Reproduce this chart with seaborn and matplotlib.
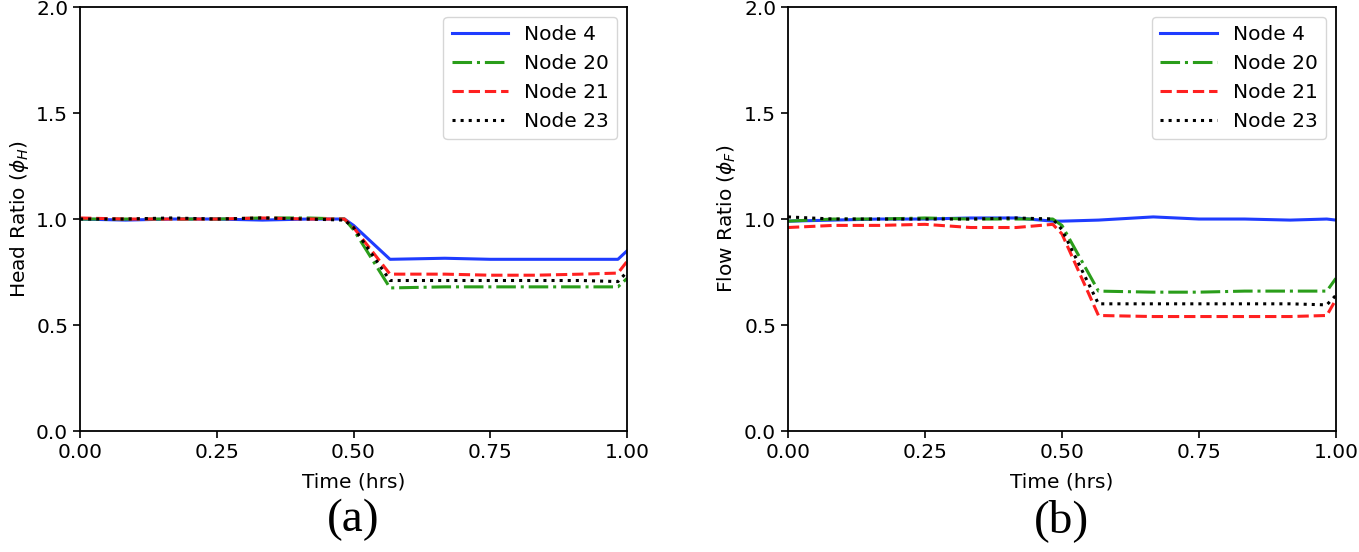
import numpy as np
import pandas as pd
import matplotlib
matplotlib.use("Agg")
import matplotlib.pyplot as plt
import seaborn as sns

# time stamps in minutes, converted to hours
minutes = [0, 5, 10, 15, 20, 25, 29, 30, 34, 40, 45, 50, 55, 59, 60]
time_hrs = [m / 60 for m in minutes]

# (a) head ratio
head_node4 = [1.00, 0.995, 1.00, 1.00, 0.995, 1.00, 1.00, 0.97, 0.81, 0.815, 0.81, 0.81, 0.81, 0.81, 0.85]
head_node20 = [1.00, 1.00, 1.00, 1.00, 1.005, 1.005, 1.00, 0.95, 0.675, 0.68, 0.68, 0.68, 0.68, 0.68, 0.72]
head_node21 = [1.005, 1.00, 1.00, 1.00, 1.005, 1.00, 1.00, 0.96, 0.74, 0.74, 0.735, 0.735, 0.74, 0.745, 0.80]
head_node23 = [1.00, 1.00, 1.005, 1.00, 1.005, 1.00, 0.995, 0.96, 0.71, 0.71, 0.71, 0.71, 0.71, 0.705, 0.75]

# (b) flow ratio
flow_node4 = [0.99, 0.995, 1.00, 1.00, 1.005, 1.005, 0.99, 0.99, 0.995, 1.01, 1.00, 1.00, 0.995, 1.00, 0.995]
flow_node20 = [0.99, 1.00, 1.00, 1.005, 1.00, 1.00, 1.00, 0.97, 0.66, 0.655, 0.655, 0.66, 0.66, 0.66, 0.72]
flow_node21 = [0.96, 0.97, 0.97, 0.975, 0.96, 0.96, 0.975, 0.93, 0.545, 0.54, 0.54, 0.54, 0.54, 0.545, 0.62]
flow_node23 = [1.01, 1.00, 1.00, 1.00, 1.00, 1.005, 1.00, 0.95, 0.60, 0.60, 0.60, 0.60, 0.60, 0.595, 0.64]

labels = ["Node 4", "Node 20", "Node 21", "Node 23"]
colors = ["#1f3cff", "#2a9d1a", "#ff2020", "black"]
styles = ["-", "-.", "--", ":"]

head = pd.DataFrame({"t": time_hrs, "Node 4": head_node4, "Node 20": head_node20,
                     "Node 21": head_node21, "Node 23": head_node23})
flow = pd.DataFrame({"t": time_hrs, "Node 4": flow_node4, "Node 20": flow_node20,
                     "Node 21": flow_node21, "Node 23": flow_node23})

fig = plt.figure(figsize=(13.59, 5.52), dpi=100)
ax1 = fig.add_axes([0.0589, 0.2192, 0.4025, 0.768])
ax2 = fig.add_axes([0.5798, 0.2192, 0.4032, 0.768])

for ax, df, ylab, tag in [(ax1, head, r"Head Ratio ($\phi_H$)", "(a)"),
                          (ax2, flow, r"Flow Ratio ($\phi_F$)", "(b)")]:
    for lab, c, ls in zip(labels, colors, styles):
        sns.lineplot(data=df, x="t", y=lab, ax=ax, color=c, linestyle=ls,
                     linewidth=2.2, label=lab)
    ax.set_xlim(0, 1)
    ax.set_ylim(0, 2)
    ax.set_xticks([0, 0.25, 0.5, 0.75, 1.0])
    ax.set_xticklabels(["0.00", "0.25", "0.50", "0.75", "1.00"])
    ax.set_yticks([0, 0.5, 1.0, 1.5, 2.0])
    ax.tick_params(labelsize=14.5, length=5, width=1.2)
    for s in ax.spines.values():
        s.set_linewidth(1.3)
    ax.set_xlabel("Time (hrs)", fontsize=14.5, labelpad=8)
    ax.set_ylabel(ylab, fontsize=14.5, labelpad=4)
    ax.legend(loc="upper right", fontsize=14.5, handlelength=2.8)
    ax.text(0.5, -0.16, tag, transform=ax.transAxes, ha="center", va="top",
            fontsize=34, family="Liberation Serif")

fig.savefig("out.png", dpi=100)
